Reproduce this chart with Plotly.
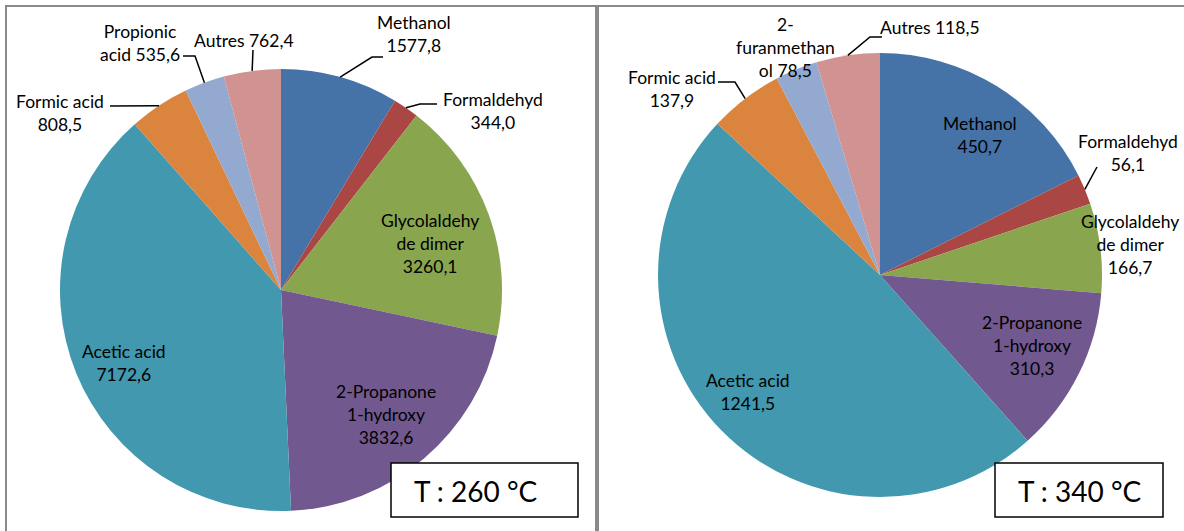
import math
import plotly.graph_objects as go

W, H = 1184, 531

# ---------------- data ----------------
labels_260 = ["Methanol", "Formaldehyd", "Glycolaldehyde dimer", "2-Propanone 1-hydroxy",
              "Acetic acid", "Formic acid", "Propionic acid", "Autres"]
values_260 = [1577.8, 344.0, 3260.1, 3832.6, 7172.6, 808.5, 535.6, 762.4]
text_260 = ["Methanol<br>1577,8", "Formaldehyd<br>344,0", "Glycolaldehy<br>de dimer<br>3260,1",
            "2-Propanone<br>1-hydroxy<br>3832,6", "Acetic acid<br>7172,6", "Formic acid<br>808,5",
            "Propionic<br>acid 535,6", "Autres 762,4"]

labels_340 = ["Methanol", "Formaldehyd", "Glycolaldehyde dimer", "2-Propanone 1-hydroxy",
              "Acetic acid", "Formic acid", "2-furanmethanol", "Autres"]
values_340 = [450.7, 56.1, 166.7, 310.3, 1241.5, 137.9, 78.5, 118.5]
text_340 = ["Methanol<br>450,7", "Formaldehyd<br>56,1", "Glycolaldehy<br>de dimer<br>166,7",
            "2-Propanone<br>1-hydroxy<br>310,3", "Acetic acid<br>1241,5", "Formic acid<br>137,9",
            "2-<br>furanmethan<br>ol 78,5", "Autres 118,5"]

titles = ["T : 260 °C", "T : 340 °C"]

colors = ["#4572A7", "#AA4643", "#89A54E", "#71588F", "#4198AF", "#DB843D", "#93A9CF", "#D19392"]

# ---------------- layout / style ----------------
FONT = "Lato, Calibri, Carlito, sans-serif"
FS = 17.5

# pie geometry (pixels): center x, center y, radius
pies = [dict(cx=281, cy=290, r=221), dict(cx=880, cy=275, r=222)]

# label placement: (dx, dy) of text center from pie center in px; leader = points (px offsets) after the edge point
label_pos_260 = [
    dict(dx=133, dy=-256, leader=[(91, -233), (102, -233)]),
    dict(dx=212, dy=-179, leader=[(139, -186), (156, -186)]),
    dict(dx=149, dy=-47),
    dict(dx=105, dy=124),
    dict(dx=-157, dy=73),
    dict(dx=-221, dy=-177, leader=[(-171, -184)]),
    dict(dx=-141, dy=-247, leader=[(-86, -234), (-98, -234)]),
    dict(dx=-37, dy=-250, leader=[(-28, -240)]),
]
label_pos_340 = [
    dict(dx=100, dy=-140),
    dict(dx=248, dy=-122, leader=[(217, -108)]),
    dict(dx=250, dy=-31),
    dict(dx=152, dy=70),
    dict(dx=-132, dy=117),
    dict(dx=-208, dy=-186, leader=[(-145, -193), (-162, -193)]),
    dict(dx=-95, dy=-228),
    dict(dx=50, dy=-247, leader=[(-10, -238), (2, -238)]),
]

def px(x):
    return x / W

def py(y):
    return 1 - y / H

fig = go.Figure()
annotations = []
shapes = []

# panel borders
for x0, x1 in [(6, 596), (598, 1200)]:
    shapes.append(dict(type="rect", xref="paper", yref="paper",
                       x0=px(x0), x1=px(x1), y0=py(H + 10), y1=py(6),
                       line=dict(color="#8a8a8a", width=2), fillcolor="rgba(0,0,0,0)", layer="below"))

datasets = [(labels_260, values_260, text_260, label_pos_260),
            (labels_340, values_340, text_340, label_pos_340)]

for i, (labs, vals, txts, lpos) in enumerate(datasets):
    g = pies[i]
    cx, cy, r = g["cx"], g["cy"], g["r"]
    fig.add_trace(go.Pie(
        labels=labs, values=vals, sort=False, direction="clockwise", rotation=0,
        marker=dict(colors=colors, line=dict(width=0)),
        textinfo="none", showlegend=False,
        domain=dict(x=[px(cx - r), px(cx + r)], y=[py(cy + r), py(cy - r)]),
        hovertemplate="%{label}: %{value}<extra></extra>",
    ))
    total = sum(vals)
    cum = 0.0
    for v, t, lp in zip(vals, txts, lpos):
        mid = (cum + v / 2) / total * 2 * math.pi
        cum += v
        annotations.append(dict(
            x=px(cx + lp["dx"]), y=py(cy + lp["dy"]), xref="paper", yref="paper",
            text=t, showarrow=False, xanchor="center", yanchor="middle",
            font=dict(family=FONT, size=FS, color="#000000"), align="center"))
        if "leader" in lp:
            ex = cx + r * math.sin(mid)
            ey = cy - r * math.cos(mid)
            pts = [(ex, ey)] + [(cx + a, cy + b) for a, b in lp["leader"]]
            path = "M " + " L ".join(f"{px(a):.5f},{py(b):.5f}" for a, b in pts)
            shapes.append(dict(type="path", xref="paper", yref="paper", path=path,
                               line=dict(color="#000000", width=1.5)))

# temperature boxes
boxes = [(391, 578), (995, 1163)]
for (x0, x1), t in zip(boxes, titles):
    shapes.append(dict(type="rect", xref="paper", yref="paper",
                       x0=px(x0), x1=px(x1), y0=py(517), y1=py(463),
                       line=dict(color="#000000", width=1.5), fillcolor="#ffffff"))
    annotations.append(dict(x=px(x0 + 21), y=py(491), xref="paper", yref="paper",
                            text=t, showarrow=False, xanchor="left", yanchor="middle",
                            font=dict(family=FONT, size=28, color="#000000")))

fig.update_layout(
    width=W, height=H, margin=dict(l=0, r=0, t=0, b=0),
    paper_bgcolor="#ffffff", plot_bgcolor="#ffffff",
    annotations=annotations, shapes=shapes,
)

fig.write_html("out.html", config={"displayModeBar": False},
               post_script="document.body.style.margin='0';document.body.style.overflow='hidden';")
